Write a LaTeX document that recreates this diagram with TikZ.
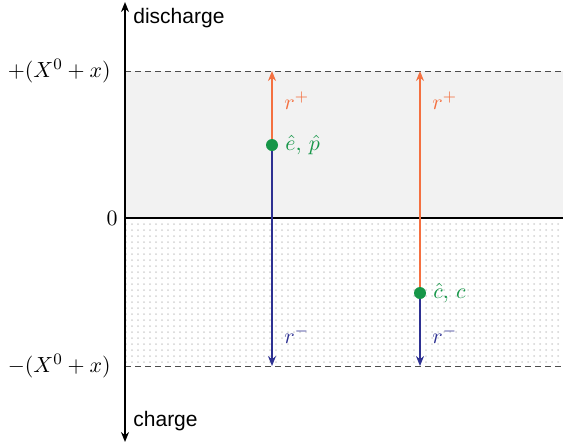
\documentclass[tikz,border=0pt]{standalone}
\usepackage{fontspec}
\setsansfont{Liberation Sans}
\usetikzlibrary{arrows.meta,patterns}
\definecolor{rplus}{RGB}{244,112,64}
\definecolor{rminus}{RGB}{46,49,146}
\definecolor{pt}{RGB}{22,150,72}
\definecolor{band}{RGB}{242,242,242}
\tikzset{
  axisline/.style={line width=1pt,-{Stealth[length=5pt,width=4pt]}},
  limitline/.style={densely dashed,line width=0.4pt,black!70},
  upline/.style={rplus,line width=1pt,-{Stealth[length=5pt,width=4pt]}},
  downline/.style={rminus,line width=1pt,-{Stealth[length=5pt,width=4pt]}},
  ptdot/.style={circle,fill=pt,inner sep=0pt,minimum size=6pt},
  lbl/.style={inner sep=1pt,font=\fontsize{11}{13}\selectfont},
  txt/.style={inner sep=1pt,font=\fontsize{10.5}{12}\selectfont\sffamily},
}
\begin{document}
\begin{tikzpicture}[x=0.5pt,y=-0.5pt]
\useasboundingbox (0,0) rectangle (563,446);
% regions
\fill[band] (125,71) rectangle (563,218);
\fill[pattern=dots,pattern color=gray!35] (125,218) rectangle (563,366);
% coordinates
\coordinate (at) at (125,2);
\coordinate (ab) at (125,442);
\coordinate (ul) at (125,71);
\coordinate (ur) at (563,71);
\coordinate (zl) at (125,218);
\coordinate (zr) at (563,218);
\coordinate (ll) at (125,366);
\coordinate (lr) at (563,366);
\coordinate (t1) at (272,71);
\coordinate (b1) at (272,366);
\coordinate (t2) at (420,71);
\coordinate (b2) at (420,366);
\coordinate (c1) at (272,145);
\coordinate (c2) at (420,293);
% lines
\draw[limitline] (ul) -- (ur);
\draw[limitline] (ll) -- (lr);
\draw[line width=1pt] (zl) -- (zr);
\draw[axisline] (zl) -- (at);
\draw[axisline] (zl) -- (ab);
\draw[upline] (c1) -- (t1);
\draw[downline] (c1) -- (b1);
\draw[upline] (c2) -- (t2);
\draw[downline] (c2) -- (b2);
\node[ptdot] (p1) at (c1) {};
\node[ptdot] (p2) at (c2) {};
% labels
\node[txt,anchor=west] (dis) at (131,18) {discharge};
\node[txt,anchor=west] (chg) at (131,421) {charge};
\node[lbl,anchor=east] (up) at (113,71) {$+(X^0+x)$};
\node[lbl,anchor=east] (zero) at (120,218) {$0$};
\node[lbl,anchor=east] (lo) at (113,366) {$-(X^0+x)$};
\node[lbl,anchor=west,text=rplus] (rp1) at (282,101) {$r^+$};
\node[lbl,anchor=west,text=rplus] (rp2) at (430,101) {$r^+$};
\node[lbl,anchor=west,text=pt] (ep) at (283,145) {$\hat e,\,\hat p$};
\node[lbl,anchor=west,text=pt] (cc) at (431,293) {$\hat c,\,c$};
\node[lbl,anchor=west,text=rminus] (rm1) at (282,335) {$r^-$};
\node[lbl,anchor=west,text=rminus] (rm2) at (430,335) {$r^-$};
\end{tikzpicture}
\end{document}
